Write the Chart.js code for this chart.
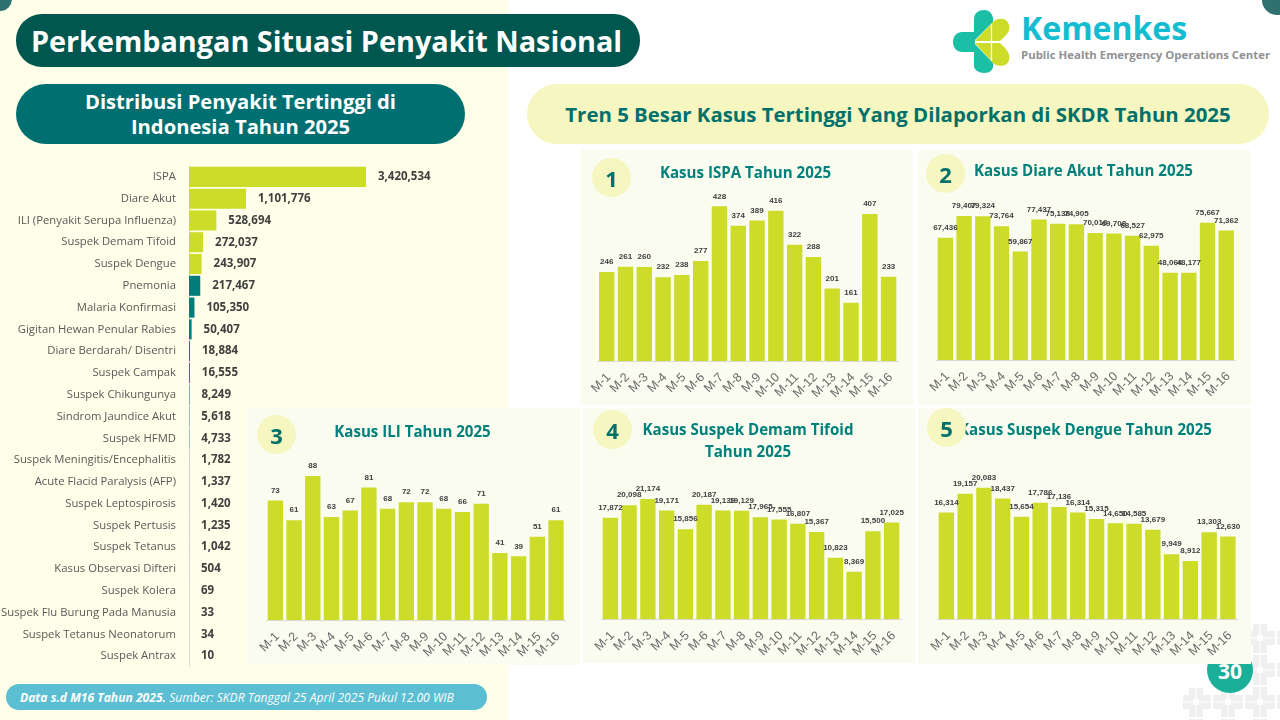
<!DOCTYPE html>
<html lang="id">
<head>
<meta charset="utf-8">
<title>Perkembangan Situasi Penyakit Nasional</title>
<script src="https://cdn.jsdelivr.net/npm/chart.js@4"></script>
<style>
html,body{margin:0;padding:0;background:#fff;}
#page{position:relative;width:1280px;height:720px;overflow:hidden;background:#fff;font-family:"Open Sans",sans-serif;}
#page>*{position:absolute;}
.pill{display:flex;align-items:center;justify-content:center;text-align:center;font-weight:700;box-sizing:border-box;}
.panel{background:#FAFCF0;}
.num{width:39px;height:39px;border-radius:50%;background:#F5F6C0;color:#00706B;font-weight:700;font-size:22px;display:flex;align-items:center;justify-content:center;}
.ttl{color:#00807A;font-weight:700;font-size:15.1px;line-height:22px;text-align:center;transform:translateX(-50%);white-space:nowrap;}
canvas{display:block;}
</style>
</head>
<body>
<div id="page">
  <div style="left:0;top:0;width:508px;height:720px;background:#FEFEE9"></div>
  <div style="left:-12px;top:-13px;width:24px;height:24px;border-radius:50%;background:#2F7070"></div>
  <div style="left:1262px;top:-15px;width:30px;height:30px;border-radius:50%;background:#2F7070"></div>

  <svg style="left:1180px;top:622px" width="100" height="98" viewBox="0 0 100 98">
    <defs><pattern id="bt" width="32" height="32" patternUnits="userSpaceOnUse">
      <rect x="9" y="1" width="14" height="30" fill="#EFEFEF"/><rect x="1" y="9" width="30" height="14" fill="#EFEFEF"/>
      <rect x="13" y="13" width="6" height="6" fill="#fff"/><path d="M16 1V31M1 16H31" stroke="#fff" stroke-width="1"/>
    </pattern></defs>
    <path d="M3 98V66L34 66V34L66 34V2H100V98Z" fill="url(#bt)"/>
  </svg>
  <div style="left:1207px;top:647px;width:46px;height:46px;border-radius:50%;background:#1AAF98"></div>
  <div style="left:1207px;top:657px;width:46px;text-align:center;color:#fff;font-weight:700;font-size:21px;line-height:28px">30</div>

  <div class="pill" style="left:16px;top:14px;width:624px;height:53px;border-radius:26px;background:#00574F;color:#fff;font-size:28.8px;padding-right:3px">Perkembangan Situasi Penyakit Nasional</div>
  <div class="pill" style="left:16px;top:84px;width:449px;height:60px;border-radius:30px;background:#006F72;color:#fff;font-size:20.2px;line-height:25px">Distribusi Penyakit Tertinggi di<br>Indonesia Tahun 2025</div>
  <div class="pill" style="left:527px;top:84px;width:742px;height:60px;border-radius:30px;background:#F5F6C0;color:#00706B;font-size:20.4px">Tren 5 Besar Kasus Tertinggi Yang Dilaporkan di SKDR Tahun 2025</div>

  <svg style="left:950px;top:6px" width="70" height="72" viewBox="0 0 70 72">
    <path d="M3 36C3 30 7 26 12 26H25V46H12C7 46 3 42 3 36Z" fill="#1ABFA5"/>
    <path d="M24 35V13C24 7 29 4 34 4C40 4 43 9 43 13V16Z" fill="#1ABFA5"/>
    <path d="M24 37V60C24 64 29 67 34 67C40 67 43 64 43 60V57Z" fill="#1ABFA5"/>
    <path d="M25 35L44 15C48 12 57 11 59 19C61 26 55 30 50 35Z" fill="#CDDC29"/>
    <path d="M25 37H50C55 42 61 47 59 54C57 62 48 60 44 58Z" fill="#CDDC29"/>
    <path d="M41.5 18V55" stroke="#fff" stroke-width="1.3"/>
  </svg>
  <div style="left:1021px;top:5px;color:#14BCD0;font-weight:700;font-size:32px;line-height:46px;white-space:nowrap">Kemenkes</div>
  <div style="left:1021px;top:46px;color:#8F9193;font-weight:700;font-size:11.4px;line-height:18px;white-space:nowrap">Public Health Emergency Operations Center</div>

  <canvas id="cTotal" width="508" height="501" style="left:0;top:166px"></canvas>

  <div class="panel" style="left:580px;top:150px;width:333px;height:255px"></div>
  <div class="panel" style="left:918px;top:150px;width:333px;height:255px"></div>
  <div class="panel" style="left:247px;top:408px;width:333px;height:257px"></div>
  <div class="panel" style="left:583px;top:408px;width:332px;height:255px"></div>
  <div class="panel" style="left:918px;top:408px;width:333px;height:256px"></div>

  <canvas id="cIspa" width="333" height="255" style="left:580px;top:150px"></canvas>
  <canvas id="cDiare" width="333" height="255" style="left:918px;top:150px"></canvas>
  <canvas id="cIli" width="333" height="257" style="left:247px;top:408px"></canvas>
  <canvas id="cTifoid" width="332" height="255" style="left:583px;top:408px"></canvas>
  <canvas id="cDengue" width="333" height="256" style="left:918px;top:408px"></canvas>

  <div class="ttl" style="left:745.5px;top:161px">Kasus ISPA Tahun 2025</div>
  <div class="ttl" style="left:1083.5px;top:159px">Kasus Diare Akut Tahun 2025</div>
  <div class="ttl" style="left:412.5px;top:420px">Kasus ILI Tahun 2025</div>
  <div class="ttl" style="left:748px;top:418px">Kasus Suspek Demam Tifoid<br>Tahun 2025</div>
  <div class="ttl" style="left:1085.5px;top:418px">Kasus Suspek Dengue Tahun 2025</div>

  <div class="num" style="left:592px;top:158px">1</div>
  <div class="num" style="left:926px;top:154px">2</div>
  <div class="num" style="left:257px;top:415px">3</div>
  <div class="num" style="left:593px;top:410px">4</div>
  <div class="num" style="left:927px;top:408px">5</div>

  <div class="pill" style="left:6px;top:684px;width:481px;height:26px;border-radius:13px;background:#5BBED2;color:#fff;font-size:12.1px;font-style:italic;font-weight:400;justify-content:flex-start;padding-left:14px;white-space:nowrap"><b>Data s.d M16 Tahun 2025.</b>&nbsp;Sumber: SKDR Tanggal 25 April 2025 Pukul 12.00 WIB</div>
</div>

<script>
const diseases = ["ISPA","Diare Akut","ILI (Penyakit Serupa Influenza)","Suspek Demam Tifoid","Suspek Dengue","Pnemonia","Malaria Konfirmasi","Gigitan Hewan Penular Rabies","Diare Berdarah/ Disentri","Suspek Campak","Suspek Chikungunya","Sindrom Jaundice Akut","Suspek HFMD","Suspek Meningitis/Encephalitis","Acute Flacid Paralysis (AFP)","Suspek Leptospirosis","Suspek Pertusis","Suspek Tetanus","Kasus Observasi Difteri","Suspek Kolera","Suspek Flu Burung Pada Manusia","Suspek Tetanus Neonatorum","Suspek Antrax"];
const diseaseTotals = [3420534,1101776,528694,272037,243907,217467,105350,50407,18884,16555,8249,5618,4733,1782,1337,1420,1235,1042,504,69,33,34,10];
const weeks = ["M-1","M-2","M-3","M-4","M-5","M-6","M-7","M-8","M-9","M-10","M-11","M-12","M-13","M-14","M-15","M-16"];
const ispa = [246,261,260,232,238,277,428,374,389,416,322,288,201,161,407,233];
const diareAkut = [67436,79407,79324,73764,59867,77437,75138,74905,70016,69708,68527,62975,48064,48177,75667,71362];
const ili = [73,61,88,63,67,81,68,72,72,68,66,71,41,39,51,61];
const demamTifoid = [17872,20098,21174,19171,15856,20187,19139,19129,17965,17555,16807,15367,10823,8369,15500,17025];
const dengue = [16314,19157,20083,18437,15654,17786,17136,16314,15315,14650,14585,13679,9949,8912,13303,12630];

const LIME = "#CDDC29", TEAL = "#007C7A";
const fmt = v => v.toLocaleString("en-US");
Chart.defaults.animation = false;
Chart.defaults.responsive = false;
Chart.defaults.devicePixelRatio = 1;

const valueLabels = {
  id: "valueLabels",
  afterDatasetsDraw(chart, _a, o) {
    const ctx = chart.ctx, meta = chart.getDatasetMeta(0), vals = chart.data.datasets[0].data;
    ctx.save();
    ctx.font = o.font; ctx.fillStyle = o.color; ctx.textBaseline = "middle";
    ctx.textAlign = o.horizontal ? "left" : "center";
    meta.data.forEach((el, i) => {
      const t = fmt(vals[i]);
      if (o.horizontal) ctx.fillText(t, el.x + o.gap, el.y);
      else ctx.fillText(t, el.x, el.y - o.gap);
    });
    ctx.restore();
  }
};

new Chart(document.getElementById("cTotal"), {
  type: "bar",
  plugins: [valueLabels],
  data: { labels: diseases, datasets: [{ data: diseaseTotals, barPercentage: .92, categoryPercentage: 1,
    backgroundColor: diseaseTotals.map((_, i) => i < 5 ? LIME : TEAL) }] },
  options: {
    indexAxis: "y",
    layout: { padding: 0, autoPadding: false },
    plugins: { legend: { display: false }, tooltip: { enabled: false },
      valueLabels: { horizontal: true, gap: 12, font: '700 11.5px "Open Sans"', color: "#404040" } },
    scales: {
      x: { display: false, min: 0, max: 6165000 },
      y: { afterFit(s) { s.width = 189; s.paddingTop = 0; s.paddingBottom = 0; }, grid: { display: false, drawTicks: false },
        border: { color: "#D9D9D9" },
        ticks: { autoSkip: false, padding: 13, color: "#595959", font: { family: "Open Sans", size: 11.3 } } }
    }
  }
});

function trend(id, values, yMax, padLeft, padRight, axisH) {
  new Chart(document.getElementById(id), {
    type: "bar",
    plugins: [valueLabels],
    data: { labels: weeks, datasets: [{ data: values, backgroundColor: LIME, barPercentage: .82, categoryPercentage: 1 }] },
    options: {
      layout: { padding: { left: padLeft, right: padRight, top: 0, bottom: 0 }, autoPadding: false },
      plugins: { legend: { display: false }, tooltip: { enabled: false },
        valueLabels: { gap: 10, font: '700 8px "Liberation Sans"', color: "#404040" } },
      scales: {
        y: { display: false, min: 0, max: yMax },
        x: { afterFit(s) { s.height = axisH; }, grid: { display: false, drawTicks: false },
          border: { color: "#D9D9D9" },
          ticks: { autoSkip: false, minRotation: 45, maxRotation: 45, padding: 9, labelOffset: 2, color: "#6A6A6A",
            font: { family: "Liberation Sans", size: 12.5 } } }
      }
    }
  });
}
trend("cIspa", ispa, 584, 17.3, 15, 44);
trend("cDiare", diareAkut, 115830, 18, 15.4, 45);
trend("cIli", ili, 129.4, 19, 14.6, 44.7);
trend("cTifoid", demamTifoid, 37201, 18, 14, 43.7);
trend("cDengue", dengue, 32260, 19, 13.7, 44.7);
</script>
</body>
</html>
